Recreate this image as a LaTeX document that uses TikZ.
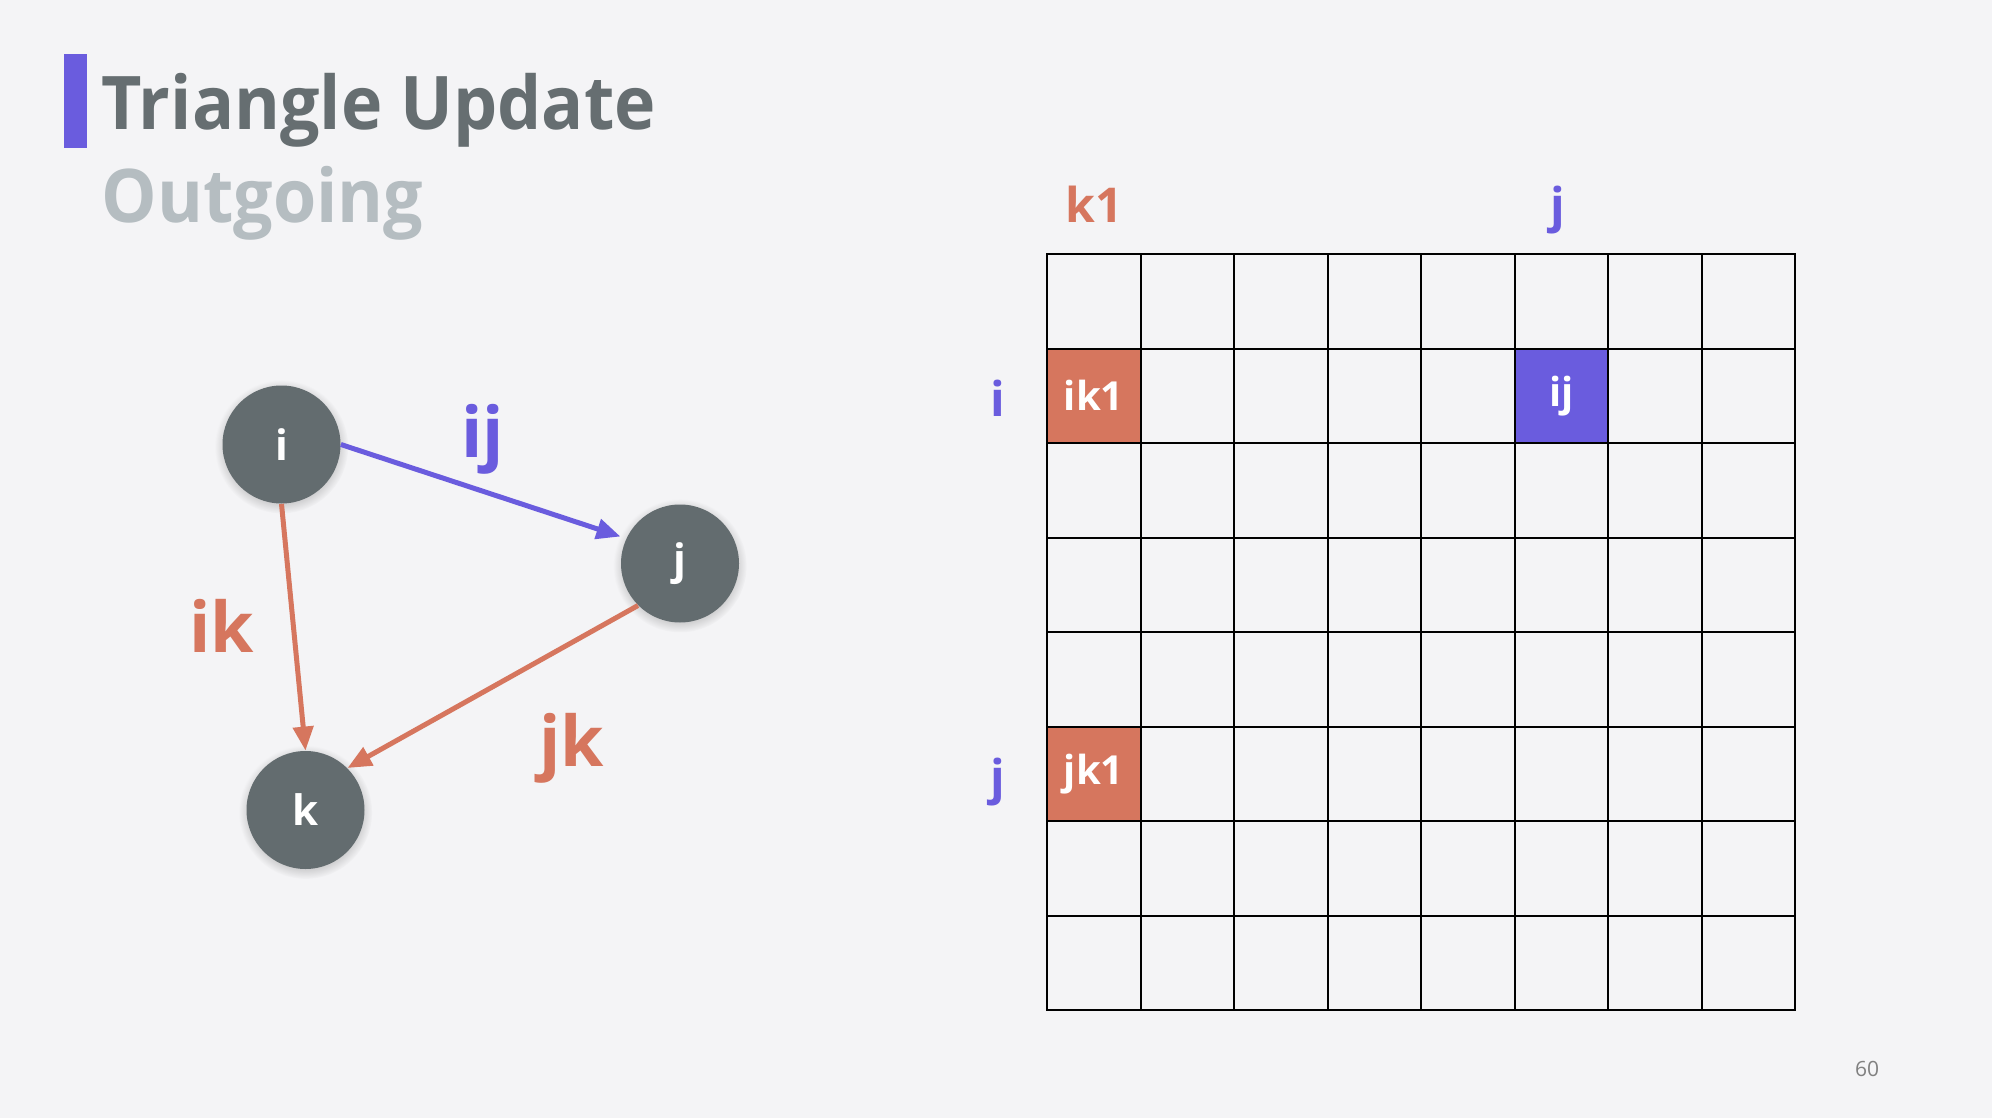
\documentclass[tikz,border=0pt]{standalone}
\usepackage{fontspec}
\setmainfont{Open Sans}
\newfontfamily\titlefont[FakeStretch=0.945]{Open Sans}
\usetikzlibrary{arrows.meta,shadows}
\definecolor{slide}{HTML}{F4F4F6}
\definecolor{accent}{HTML}{6A5CDE}
\definecolor{salmon}{HTML}{D6765E}
\definecolor{slate}{HTML}{636C6F}
\definecolor{titlegray}{HTML}{666E71}
\definecolor{subgray}{HTML}{B5BDC1}
\tikzset{
    vertex/.style = {circle, fill=slate, minimum size=59pt, inner sep=0pt, text=white,
        font=\fontsize{21}{21}\selectfont\bfseries,
        circular drop shadow={shadow xshift=0pt, shadow yshift=-1pt, shadow scale=1.13, opacity=0.3}},
    edge/.style = {line width=2.5pt, -{Triangle[length=12pt, width=10pt]}},
    edgelabel/.style = {anchor=base, font=\fontsize{35}{35}\selectfont\bfseries},
    axislabel/.style = {anchor=base, font=\fontsize{24}{24}\selectfont\bfseries},
    cellbox/.style = {minimum width=46.75pt, minimum height=47.25pt, inner sep=0pt, text=white,
        font=\fontsize{20}{20}\selectfont\bfseries},
    gridline/.style = {line width=1pt, black, line cap=rect}
}

\begin{document}
\begin{tikzpicture}[x=0.5pt, y=-0.5pt]
        % slide background
        \fill[slide] (0, 0) rectangle (1992, 1118);
        \useasboundingbox (0, 0) rectangle (1992, 1118);

        % title block
        \fill[accent] (64, 54.5) rectangle (86.5, 148.5);
        \node[anchor=base west, inner sep=0pt, text=titlegray, font=\titlefont\fontsize{37}{37}\selectfont\bfseries] (title) at (101.5, 129.5) {Triangle Update};
        \node[anchor=base west, inner sep=0pt, text=subgray, font=\titlefont\fontsize{37}{37}\selectfont\bfseries] (subtitle) at (101.5, 223) {Outgoing};

        % place triangle vertices
        \node[vertex] (i) at (281.5, 444.5) {i};
        \node[vertex] (j) at (680, 563.5) {j};
        \node[vertex] (k) at (305.5, 810) {k};

        % draw triangle edges
        \draw[edge, accent, shorten >=3pt] (i.east) -- (j.155);
        \draw[edge, salmon] (i.south) -- (k.north);
        \draw[edge, salmon] (j.south west) -- (k.north east);
        \node[edgelabel, text=accent] (lab-ij) at (482.5, 457) {ij};
        \node[edgelabel, text=salmon] (lab-ik) at (222, 652.5) {ik};
        \node[edgelabel, text=salmon] (lab-jk) at (572, 766.5) {jk};

        % filled cells of the pair grid
        \node[cellbox, fill=salmon] (ik1) at (1093.75, 395.75) {ik1};
        \node[cellbox, fill=accent] (ij) at (1561.25, 395.75) {ij};
        \node[cellbox, fill=salmon] (jk1) at (1093.75, 773.75) {jk1};

        % draw the 8x8 grid
        \foreach \c in {0,...,8}
            \draw[gridline] (1047+93.5*\c, 254) -- (1047+93.5*\c, 1010);
        \foreach \r in {0,...,8}
            \draw[gridline] (1047, 254+94.5*\r) -- (1795, 254+94.5*\r);

        % row and column labels
        \node[axislabel, text=salmon] (col-k1) at (1094, 223) {k1};
        \node[axislabel, text=accent] (col-j) at (1558, 223) {j};
        \node[axislabel, text=accent] (row-i) at (998, 416) {i};
        \node[axislabel, text=accent] (row-j) at (998, 794) {j};

        % page number
        \node[anchor=base, inner sep=0pt, text=gray, font=\fontsize{10.5}{10.5}\selectfont] (page) at (1867, 1076.5) {60};
    \end{tikzpicture}
\end{document}
